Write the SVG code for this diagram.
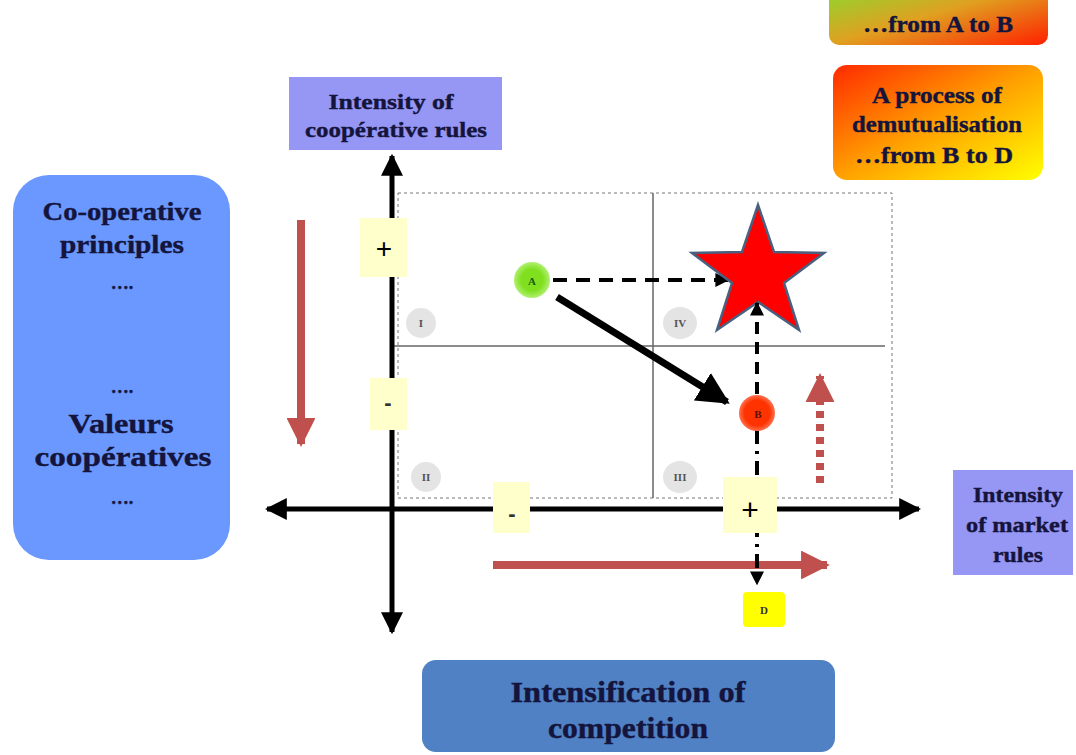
<svg xmlns="http://www.w3.org/2000/svg" width="1076" height="755" viewBox="0 0 1076 755">
<defs>
<style>
.t{font-family:"Liberation Serif","Times New Roman",serif;font-weight:bold;text-anchor:middle;fill:#14143c;stroke:#14143c;stroke-width:0.4}
.ax{stroke:#000;stroke-width:5;fill:none}
.pm{fill:#ffffcc}
.q{fill:#e4e4e4}
.ql{font-family:"Liberation Serif",serif;font-size:11px;font-weight:bold;text-anchor:middle;fill:#555}
.red{stroke:#c0504d;stroke-width:8;fill:none}
</style>
<linearGradient id="gAB" x1="0" y1="0" x2="1" y2="1">
<stop offset="0" stop-color="#80e030"/><stop offset="0.5" stop-color="#e0a020"/><stop offset="1" stop-color="#ff2000"/>
</linearGradient>
<linearGradient id="gBD" x1="0" y1="0" x2="1" y2="1">
<stop offset="0" stop-color="#ff2a00"/><stop offset="0.5" stop-color="#ffa000"/><stop offset="1" stop-color="#ffff00"/>
</linearGradient>
<radialGradient id="gA"><stop offset="0.6" stop-color="#80e020"/><stop offset="1" stop-color="#b0f070"/></radialGradient>
<radialGradient id="gB"><stop offset="0.7" stop-color="#ff3300"/><stop offset="1" stop-color="#ff7050"/></radialGradient>
<marker id="ab" viewBox="0 0 10 10" refX="9" refY="5" markerWidth="4.4" markerHeight="4.4" orient="auto"><path d="M0,0L10,5L0,10z" fill="#000"/></marker>
<marker id="at" viewBox="0 0 10 10" refX="9" refY="5" markerWidth="4.6" markerHeight="4.6" orient="auto"><path d="M0,0L10,5L0,10z" fill="#000"/></marker>
<marker id="as" viewBox="0 0 10 10" refX="9" refY="5" markerWidth="3.5" markerHeight="3.5" orient="auto"><path d="M0,0L10,5L0,10z" fill="#000"/></marker>
<marker id="ar" viewBox="0 0 10 10" refX="9" refY="5" markerWidth="3.6" markerHeight="3.6" orient="auto"><path d="M0,0L10,5L0,10z" fill="#c0504d"/></marker>
</defs>
<rect width="1076" height="755" fill="#fff"/>

<g id="legend-AB">
<rect x="829" y="-20" width="219" height="65" rx="10" fill="url(#gAB)"/>
<text class="t" x="938" y="32" font-size="23" textLength="150" lengthAdjust="spacingAndGlyphs">…from A to B</text>
</g>
<g id="legend-BD">
<rect x="833" y="65" width="210" height="115" rx="14" fill="url(#gBD)"/>
<text class="t" x="937" y="103" font-size="23" textLength="130" lengthAdjust="spacingAndGlyphs">A process of</text>
<text class="t" x="937" y="132" font-size="23" textLength="170" lengthAdjust="spacingAndGlyphs">demutualisation</text>
<text class="t" x="934" y="163" font-size="23" textLength="158" lengthAdjust="spacingAndGlyphs">…from B to D</text>
</g>

<g id="label-coop">
<rect x="289" y="77" width="213" height="73" fill="#9696f5"/>
<text class="t" x="391" y="109" font-size="22" textLength="125" lengthAdjust="spacingAndGlyphs">Intensity  of</text>
<text class="t" x="396" y="137" font-size="22" textLength="182" lengthAdjust="spacingAndGlyphs">coopérative rules</text>
</g>
<g id="label-market">
<rect x="953" y="470" width="120" height="105" fill="#9696f5"/>
<text class="t" x="1018" y="502" font-size="21" textLength="90" lengthAdjust="spacingAndGlyphs">Intensity</text>
<text class="t" x="1017" y="532" font-size="21" textLength="102" lengthAdjust="spacingAndGlyphs">of market</text>
<text class="t" x="1018" y="562" font-size="21" textLength="50" lengthAdjust="spacingAndGlyphs">rules</text>
</g>
<g id="principles">
<rect x="13" y="175" width="217" height="385" rx="36" fill="#6a98ff"/>
<text class="t" x="122" y="220" font-size="26" textLength="159" lengthAdjust="spacingAndGlyphs">Co-operative</text>
<text class="t" x="122" y="253" font-size="26" textLength="124" lengthAdjust="spacingAndGlyphs">principles</text>
<text class="t" x="122" y="289" font-size="18">….</text>
<text class="t" x="122" y="393" font-size="18">….</text>
<text class="t" x="121" y="433" font-size="28" textLength="105" lengthAdjust="spacingAndGlyphs">Valeurs</text>
<text class="t" x="123" y="466" font-size="28" textLength="177" lengthAdjust="spacingAndGlyphs">coopératives</text>
<text class="t" x="122" y="504" font-size="18">….</text>
</g>
<g id="competition">
<rect x="422" y="660" width="413" height="92" rx="14" fill="#4f81c4"/>
<text class="t" x="628" y="702" font-size="29" textLength="235" lengthAdjust="spacingAndGlyphs">Intensification of</text>
<text class="t" x="628" y="738" font-size="29" textLength="160" lengthAdjust="spacingAndGlyphs">competition</text>
</g>

<g id="grid">
<rect x="398" y="193" width="494" height="305" fill="none" stroke="#777" stroke-width="1" stroke-dasharray="3,3"/>
<line x1="392" y1="346" x2="885" y2="346" stroke="#666" stroke-width="1.5"/>
<line x1="653" y1="193" x2="653" y2="498" stroke="#666" stroke-width="1.5"/>
</g>

<g id="quadrants">
<ellipse class="q" cx="421" cy="323" rx="15" ry="15"/><text class="ql" x="421" y="327">I</text>
<ellipse class="q" cx="680" cy="323" rx="17" ry="16"/><text class="ql" x="680" y="327">IV</text>
<ellipse class="q" cx="426" cy="477" rx="15" ry="15"/><text class="ql" x="426" y="481">II</text>
<ellipse class="q" cx="680" cy="477" rx="17" ry="16"/><text class="ql" x="680" y="481">III</text>
</g>

<g id="connectors">
<line class="ax" x1="392" y1="509" x2="392" y2="156" marker-end="url(#ab)"/>
<line class="ax" x1="392" y1="509" x2="267" y2="509" marker-end="url(#ab)"/>
<line class="ax" x1="392" y1="509" x2="919" y2="509" marker-end="url(#ab)"/>
<line class="ax" x1="392" y1="509" x2="392" y2="632" marker-end="url(#ab)"/>
<line x1="553" y1="280" x2="728" y2="280" stroke="#000" stroke-width="4" stroke-dasharray="14,9" marker-end="url(#as)"/>
<line x1="557" y1="297" x2="727" y2="402" stroke="#000" stroke-width="7" marker-end="url(#at)"/>
<line x1="301" y1="220" x2="301" y2="444" class="red" marker-end="url(#ar)"/>
<line x1="493" y1="565" x2="827" y2="565" class="red" marker-end="url(#ar)"/>
<line x1="820" y1="483" x2="820" y2="376" class="red" stroke-dasharray="7,6" marker-end="url(#ar)"/>
</g>

<g id="star">
<polygon points="758,205 774,252 824,253 784,283 799,330 758,302 717,330 732,283 692,253 742,252" fill="#ff0000" stroke="#4a6080" stroke-width="2.5"/>
</g>
<g id="connectors-BD">
<line x1="757" y1="394" x2="757" y2="303" stroke="#000" stroke-width="4" stroke-dasharray="12,8" marker-end="url(#as)"/>
<line x1="757" y1="430" x2="757" y2="584" stroke="#000" stroke-width="4" stroke-dasharray="14,7,3,7" marker-end="url(#as)"/>
</g>

<g id="plus-v"><rect class="pm" x="360" y="218" width="47" height="59"/><text x="384" y="258" font-family="Liberation Sans,sans-serif" font-size="28" text-anchor="middle">+</text></g>
<g id="minus-v"><rect class="pm" x="370" y="378" width="37" height="52"/><text x="388" y="410" font-family="Liberation Sans,sans-serif" font-size="22" font-weight="bold" text-anchor="middle" fill="#333">-</text></g>
<g id="minus-h"><rect class="pm" x="493" y="482" width="37" height="51"/><text x="512" y="521" font-family="Liberation Sans,sans-serif" font-size="22" font-weight="bold" text-anchor="middle" fill="#333">-</text></g>
<g id="plus-h"><rect class="pm" x="723" y="477" width="54" height="56"/><text x="750" y="520" font-family="Liberation Sans,sans-serif" font-size="30" text-anchor="middle">+</text></g>

<g id="node-A"><circle cx="532" cy="280" r="18" fill="url(#gA)"/><text x="532" y="285" font-family="Liberation Serif,serif" font-size="11" font-weight="bold" text-anchor="middle" fill="#1a5a10">A</text></g>
<g id="node-B"><circle cx="757" cy="413" r="18" fill="url(#gB)"/><text x="758" y="418" font-family="Liberation Serif,serif" font-size="11" font-weight="bold" text-anchor="middle" fill="#5a1000">B</text></g>
<g id="node-D"><rect x="743" y="592" width="42" height="35" rx="4" fill="#ffff00"/><text x="764" y="614" font-family="Liberation Serif,serif" font-size="11" font-weight="bold" text-anchor="middle" fill="#333">D</text></g>
</svg>
